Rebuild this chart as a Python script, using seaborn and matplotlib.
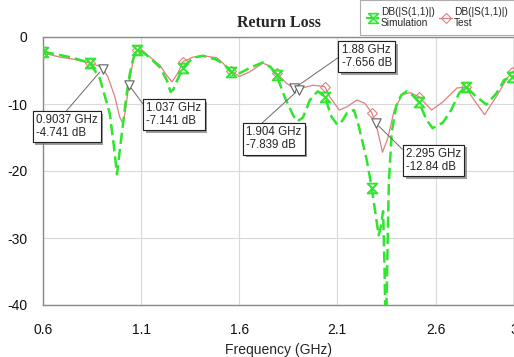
import matplotlib
matplotlib.use("Agg")
import matplotlib.pyplot as plt
import seaborn as sns
import pandas as pd
from matplotlib.path import Path
from matplotlib.lines import Line2D
import matplotlib.patheffects as pe

# ---------------- data ----------------
sim_f = [0.6, 0.687, 0.753, 0.84, 0.89, 0.94, 0.96, 0.977, 0.993, 1.008, 1.025,
         1.043, 1.06, 1.08, 1.11, 1.145, 1.195, 1.23, 1.25, 1.265, 1.28, 1.313,
         1.364, 1.415, 1.486, 1.527, 1.557, 1.603, 1.654, 1.72, 1.76, 1.79,
         1.832, 1.873, 1.895, 1.925, 1.96, 2.0, 2.036, 2.07, 2.10, 2.125, 2.15,
         2.185, 2.21, 2.25, 2.275, 2.295, 2.31, 2.32, 2.333, 2.34, 2.347, 2.354,
         2.362, 2.377, 2.40, 2.425, 2.453, 2.484, 2.515, 2.555, 2.585, 2.637,
         2.68, 2.72, 2.755, 2.8, 2.86, 2.91, 2.95, 2.99, 3.0]
sim_db = [-2.2, -2.7, -3.1, -3.9, -6.2, -11.4, -16.0, -20.5, -16.5, -12.9, -8.8,
          -5.4, -3.2, -2.0, -2.3, -3.1, -4.5, -6.4, -8.2, -7.8, -6.7, -4.6,
          -3.1, -2.8, -3.4, -4.2, -5.2, -5.4, -4.6, -3.8, -4.5, -5.7,
          -9.0, -11.6, -12.6, -12.0, -9.4, -8.1, -8.9, -11.9, -13.1, -12.5, -11.3,
          -10.9, -13.4, -18.4, -22.5, -26.5, -29.6, -28.5, -26.0, -34.0, -46.0, -34.0,
          -22.0, -14.2, -10.3, -8.7, -8.1, -8.7, -9.7, -12.4, -13.6, -12.8,
          -10.9, -8.4, -7.4, -8.7, -10.1, -8.4, -6.4, -5.9, -5.8]

test_f = [0.6, 0.687, 0.753, 0.84, 0.89, 0.9037, 0.93, 0.966, 0.99, 1.007, 1.02,
          1.027, 1.037, 1.06, 1.08, 1.11, 1.145, 1.195, 1.23, 1.257, 1.287, 1.313,
          1.364, 1.415, 1.486, 1.557, 1.6, 1.654, 1.72, 1.76, 1.79, 1.84, 1.88,
          1.904, 1.935, 1.975, 2.036, 2.06, 2.11, 2.15, 2.2, 2.24, 2.275, 2.295,
          2.305, 2.33, 2.357, 2.39, 2.43, 2.47, 2.515, 2.58, 2.637, 2.71, 2.755,
          2.785, 2.85, 2.91, 2.96, 2.99, 3.0]
test_db = [-2.4, -3.0, -3.3, -3.9, -4.4, -4.741, -5.9, -8.9, -11.9, -12.9, -11.0,
           -9.4, -7.141, -3.4, -1.9, -2.1, -3.0, -4.2, -5.7, -6.7, -5.4, -3.7,
           -3.0, -2.8, -3.1, -5.0, -5.9, -5.2, -3.9, -4.4, -5.4, -6.9, -7.656,
           -7.839, -7.5, -7.2, -7.4, -8.9, -10.9, -10.4, -9.4, -9.9, -11.3, -12.84,
           -14.0, -17.2, -15.1, -10.9, -8.6, -8.3, -8.9, -10.9, -9.7, -7.6, -7.5,
           -8.9, -11.6, -8.9, -6.4, -5.2, -5.1]

sim_marker_f = [0.6, 0.84, 1.08, 1.313, 1.557, 1.79, 2.036, 2.275, 2.515, 2.755, 2.99]
test_marker_f = [0.6, 0.84, 1.08, 1.313, 1.557, 1.79, 2.036, 2.275, 2.515, 2.755, 2.99]

mark_f = [0.9037, 1.037, 1.88, 1.904, 2.295]
mark_db = [-4.741, -7.141, -7.656, -7.839, -12.84]
mark_labels = ["0.9037 GHz\n-4.741 dB", "1.037 GHz\n-7.141 dB", "1.88 GHz\n-7.656 dB",
               "1.904 GHz\n-7.839 dB", "2.295 GHz\n-12.84 dB"]

x_ticks = [0.6, 1.1, 1.6, 2.1, 2.6, 3.0]
x_tick_labels = ["0.6", "1.1", "1.6", "2.1", "2.6", "3"]
y_ticks = [0, -10, -20, -30, -40]
y_tick_labels = ["0", "-10", "-20", "-30", "-40"]

series_labels = ["DB(|S(1,1)|)\nSimulation", "DB(|S(1,1)|)\nTest"]

# ---------------- styling ----------------
sns.set_style("white")
plt.rcParams["font.family"] = ["Liberation Sans", "DejaVu Sans"]

GREEN = "#2ee62e"
PINK = "#df7f7f"
GRAY = "#8a8a8a"

hourglass = Path([(-1, 1), (1, 1), (-1, -1), (1, -1), (-1, 1)],
                 [Path.MOVETO, Path.LINETO, Path.LINETO, Path.LINETO, Path.CLOSEPOLY])

fig = plt.figure(figsize=(5.14, 3.57), dpi=100)
ax = fig.add_axes([43 / 514, 1 - 305 / 357, 471 / 514, 268 / 357])

sim = pd.DataFrame({"f": sim_f, "db": sim_db})
test = pd.DataFrame({"f": test_f, "db": test_db})
sim_every = [i for i, f in enumerate(sim_f) if f in sim_marker_f]
test_every = [i for i, f in enumerate(test_f) if f in test_marker_f]

sns.lineplot(data=test, x="f", y="db", ax=ax, sort=False, estimator=None,
             color=PINK, lw=0.9, marker="D", markersize=5, markerfacecolor="none",
             markeredgecolor=PINK, markeredgewidth=0.8, markevery=test_every, zorder=3)
sns.lineplot(data=sim, x="f", y="db", ax=ax, sort=False, estimator=None,
             color=GREEN, lw=1.8, dashes=(4.5, 2), marker=hourglass, markersize=7,
             markerfacecolor="none", markeredgecolor=GREEN, markeredgewidth=1.4,
             markevery=sim_every, zorder=4)

sns.scatterplot(x=mark_f, y=mark_db, ax=ax, marker="v", s=45, color="white",
                edgecolor="#606060", linewidth=0.8, zorder=6)

# annotation boxes
text_pos = [(0.72, -13.4), (1.267, -11.6), (2.25, -2.9), (1.776, -15.2), (2.59, -18.4)]
rel_pos = [(0.45, 1.0), (0.0, 0.75), (0.0, 0.55), (0.22, 1.0), (0.0, 0.8)]
for f, d, txt, pos, rel in zip(mark_f, mark_db, mark_labels, text_pos, rel_pos):
    ann = ax.annotate(txt, xy=(f, d), xytext=pos, textcoords="data",
                      fontsize=8.3, ha="center", va="center", ma="left",
                      linespacing=1.1,
                      bbox=dict(boxstyle="square,pad=0.28", fc="white", ec="#222222", lw=0.8),
                      arrowprops=dict(arrowstyle="-", color="#6a6a6a", lw=0.7,
                                      relpos=rel, shrinkA=0, shrinkB=3),
                      annotation_clip=False, zorder=7)
    ann.get_bbox_patch().set_path_effects(
        [pe.withSimplePatchShadow(offset=(2, -2), shadow_rgbFace="#777777", alpha=0.7),
         pe.Normal()])

ax.set_xlim(0.6, 3.0)
ax.set_ylim(-40, 0)
ax.set_xticks(x_ticks)
ax.set_xticklabels(x_tick_labels)
ax.set_yticks(y_ticks)
ax.set_yticklabels(y_tick_labels)
ax.tick_params(axis="both", length=0, labelsize=10, colors="#111111")
ax.tick_params(axis="x", pad=13)
ax.tick_params(axis="y", pad=11)
ax.grid(True, color="#d9d9d9", lw=0.8)
ax.set_axisbelow(True)
for s in ["left", "bottom", "top", "right"]:
    ax.spines[s].set_color(GRAY)
    ax.spines[s].set_linewidth(1.0)

ax.set_xlabel("Frequency (GHz)", fontsize=10, labelpad=4)
ax.set_ylabel("")
ax.set_title("Return Loss", fontfamily="Liberation Serif", fontweight="bold",
             fontsize=11.5, pad=7)

handles = [Line2D([], [], color=GREEN, lw=1.5, ls=(0, (3, 1.5)), marker=hourglass,
                  markersize=7, markerfacecolor="none", markeredgecolor=GREEN,
                  markeredgewidth=1.2),
           Line2D([], [], color=PINK, lw=0.9, marker="D", markersize=5,
                  markerfacecolor="none", markeredgecolor=PINK, markeredgewidth=0.8)]
leg = fig.legend(handles, series_labels, loc="upper right", bbox_to_anchor=(1.0, 1.0),
                 ncol=2, prop={"size": 7.3}, frameon=True, fancybox=False,
                 handlelength=1.2, handletextpad=0.2, columnspacing=0.5,
                 borderpad=0.65, borderaxespad=0.0)
leg.get_frame().set_edgecolor("#999999")
leg.get_frame().set_linewidth(0.8)

fig.savefig("out.png", dpi=100)
